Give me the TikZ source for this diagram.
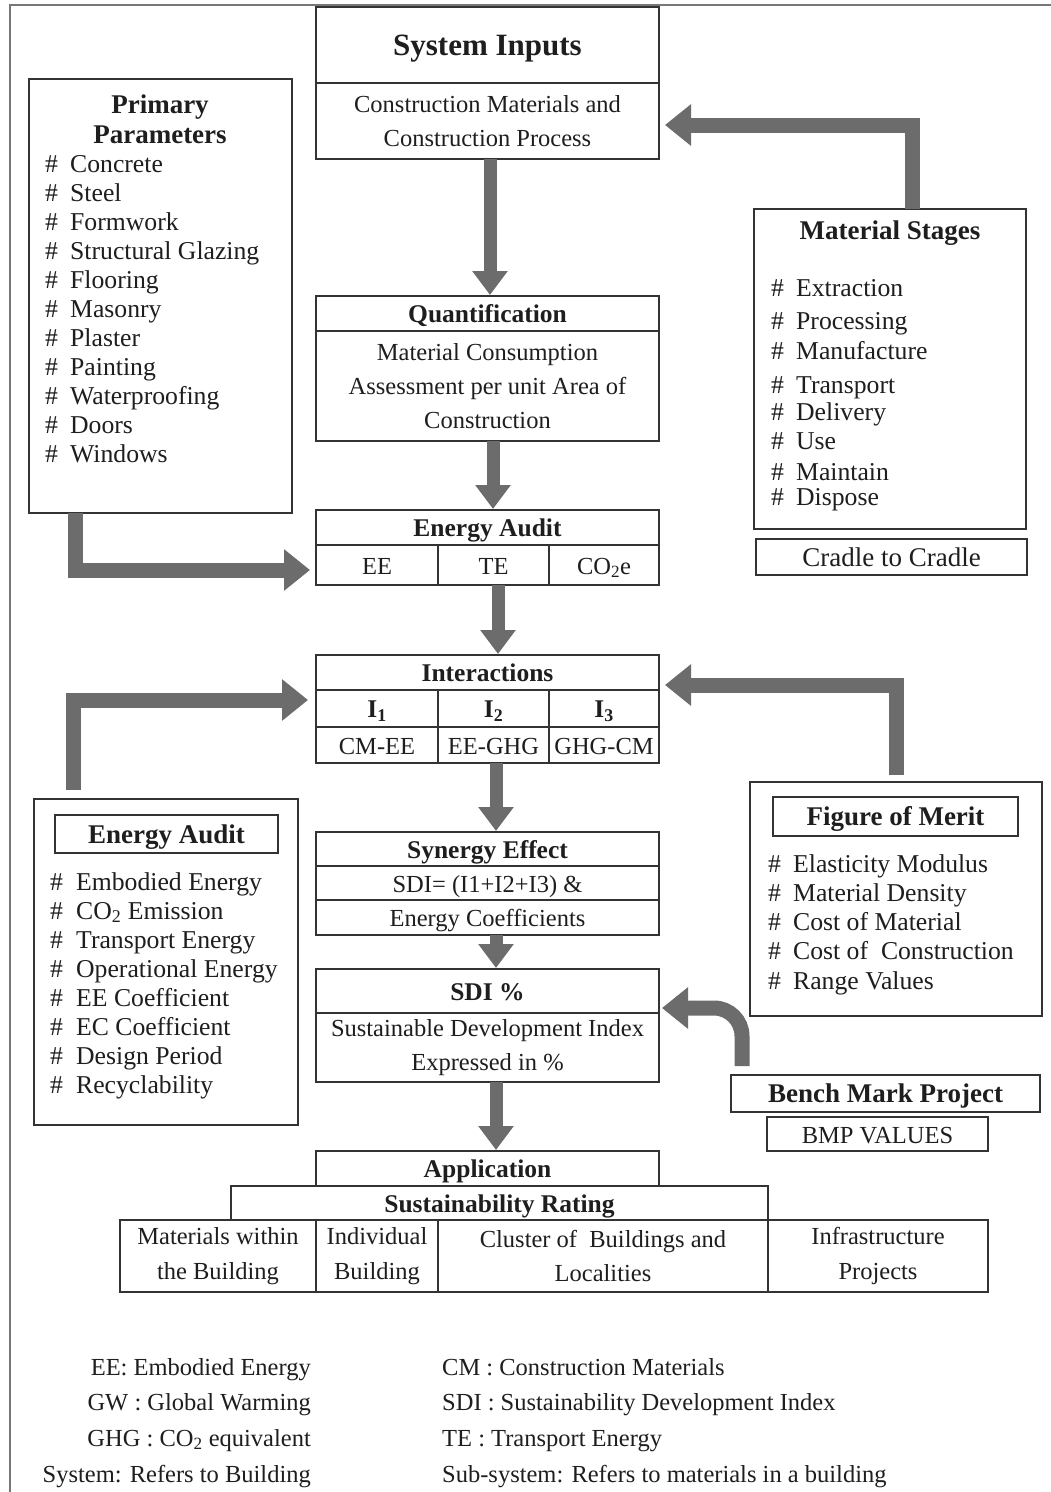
\documentclass[tikz,border=0pt]{standalone}
\usepackage{fontspec}
\setmainfont{Liberation Serif}
\usetikzlibrary{arrows.meta}
\definecolor{ink}{HTML}{1E1E1E}
\definecolor{boxline}{HTML}{333333}
\definecolor{arr}{HTML}{6C6C6C}
\definecolor{frame}{HTML}{777777}
\newcommand\ftitle{\fontsize{31}{36}\selectfont\bfseries}
\newcommand\fhead{\fontsize{25.5}{30}\selectfont\bfseries}
\newcommand\fside{\fontsize{27}{30}\selectfont\bfseries}
\newcommand\fbody{\fontsize{24.5}{34.5}\selectfont}
\newcommand\flist{\fontsize{25.7}{29}\selectfont}
\newcommand\flegend{\fontsize{24.5}{30}\selectfont}
\newcommand\cellbox[7][]{\node[box,#1,minimum width={#5-#3},minimum height={#6-#4}] (#2) at ({(#3+#5)/2},{(#4+#6)/2}) {#7};}
\begin{document}
\begin{tikzpicture}[x=1pt,y=-1pt,
  box/.style={draw=boxline, line width=1.6pt, inner sep=0pt, outer sep=0pt, text=ink, align=center, font=\fbody},
  one/.style={text height=23pt, text depth=5pt},
  onebig/.style={text height=27pt, text depth=6pt},
  item/.style={anchor=west, inner sep=0pt, text=ink, font=\flist, text height=23.5pt, text depth=5pt},
  leg/.style={inner sep=0pt, text=ink, font=\flegend, text height=21pt, text depth=5pt},
  bigarrow/.style={draw=arr, line width=13pt, line join=miter, line cap=butt, -{Triangle[length=24pt,width=34pt]}},
  sidearrow/.style={bigarrow, line width=15pt, -{Triangle[length=26pt,width=40pt]}}
]
\fill[white] (0,0) rectangle (1051,1492);
\useasboundingbox (0,0) rectangle (1051,1492);
\draw[frame, line width=2pt] (10,1492) -- (10,5) -- (1051,5);

% central column
\cellbox[onebig,font=\ftitle]{si_t}{316}{7}{659}{83}{System Inputs}
\cellbox{si_b}{316}{83}{659}{159}{Construction Materials and\\Construction Process}
\cellbox[one,font=\fhead]{q_t}{316}{296}{659}{331}{Quantification}
\cellbox[font=\fontsize{24.5}{34}\selectfont]{q_b}{316}{331}{659}{441}{Material Consumption\\Assessment per unit Area of\\Construction}
\cellbox[one,font=\fhead]{ea_t}{316}{510}{659}{545}{Energy Audit}
\cellbox[one]{ea_1}{316}{545}{438}{585}{EE}
\cellbox[one]{ea_2}{438}{545}{549}{585}{TE}
\cellbox[one]{ea_3}{549}{545}{659}{585}{CO\textsubscript{2}e}
\cellbox[one,font=\fhead]{in_t}{316}{655}{659}{690}{Interactions}
\cellbox[one,font=\fhead]{in_1a}{316}{690}{438}{727}{I\textsubscript{1}}
\cellbox[one,font=\fhead]{in_2a}{438}{690}{549}{727}{I\textsubscript{2}}
\cellbox[one,font=\fhead]{in_3a}{549}{690}{659}{727}{I\textsubscript{3}}
\cellbox[one]{in_1b}{316}{727}{438}{763}{CM-EE}
\cellbox[one]{in_2b}{438}{727}{549}{763}{EE-GHG}
\cellbox[one]{in_3b}{549}{727}{659}{763}{GHG-CM}
\cellbox[one,font=\fhead]{sy_t}{316}{832}{659}{866}{Synergy Effect}
\cellbox[one]{sy_m}{316}{866}{659}{900}{SDI= (I1+I2+I3) \&}
\cellbox[one]{sy_b}{316}{900}{659}{935}{Energy Coefficients}
\cellbox[one,font=\fhead]{sd_t}{316}{969}{659}{1013}{SDI \%}
\cellbox{sd_b}{316}{1013}{659}{1082}{Sustainable Development Index\\Expressed in \%}
\cellbox[one,font=\fhead]{ap}{316}{1151}{659}{1186}{Application}
\cellbox[one,font=\fhead]{sr}{231}{1186}{768}{1220}{Sustainability Rating}
\cellbox{r1}{120}{1220}{316}{1292}{Materials within\\the Building}
\cellbox{r2}{316}{1220}{438}{1292}{Individual\\Building}
\cellbox{r3}{438}{1220}{768}{1292}{Cluster of\ \ Buildings and\\Localities}
\cellbox{r4}{768}{1220}{988}{1292}{Infrastructure\\Projects}

% Primary parameters
\cellbox{pp}{29}{79}{292}{513}{}
\node[inner sep=0pt, text=ink, align=center, font=\fontsize{27}{30}\selectfont\bfseries] (pp_t) at (160,119) {Primary\\Parameters};
\foreach \t [count=\i from 0] in {Concrete,Steel,Formwork,Structural Glazing,Flooring,Masonry,Plaster,Painting,Waterproofing,Doors,Windows}
  \node[item] (pp\i) at (45,{163+29*\i}) {\makebox[25pt][l]{\#}\t};

% Material stages
\cellbox{ms}{754}{209}{1026}{529}{}
\node[inner sep=0pt, text=ink, font=\fside, text height=24pt, text depth=5pt] (ms_t) at (890,230) {Material Stages};
\foreach \y/\t [count=\i] in {287/Extraction,320/Processing,350/Manufacture,384/Transport,411/Delivery,440/Use,471/Maintain,496/Dispose}
  \node[item] (ms\i) at (771,\y) {\makebox[25pt][l]{\#}\t};
\cellbox[one,font=\fontsize{27}{30}\selectfont]{cc}{756}{539}{1027}{575}{Cradle to Cradle}

% Energy audit (left)
\cellbox{eal}{34}{799}{298}{1125}{}
\cellbox[one,font=\fside]{eal_t}{55}{815}{278}{853}{Energy Audit}
\foreach \t [count=\i from 0] in {Embodied Energy,CO\textsubscript{2} Emission,Transport Energy,Operational Energy,EE Coefficient,EC Coefficient,Design Period,Recyclability}
  \node[item] (eal\i) at (50,{881+29*\i}) {\makebox[26pt][l]{\#}\t};

% Figure of merit
\cellbox{fm}{750}{782}{1042}{1016}{}
\cellbox[one,font=\fside]{fm_t}{773}{797}{1018}{836}{Figure of Merit}
\foreach \t [count=\i from 0] in {Elasticity Modulus,Material Density,Cost of Material,Cost of\ \ Construction,Range Values}
  \node[item] (fm\i) at (768,{863+29.2*\i}) {\makebox[25pt][l]{\#}\t};

% Bench mark
\cellbox[one,font=\fside]{bmp}{731}{1075}{1040}{1112}{Bench Mark Project}
\cellbox[one,font=\fontsize{24.5}{30}\selectfont]{bv}{767}{1117}{988}{1151}{BMP VALUES}

% arrows
\draw[bigarrow, shorten >=1pt] ([xshift=2.5pt]si_b.south) -- ([xshift=2.5pt]q_t.north);
\draw[bigarrow, shorten >=1pt] ([xshift=5.5pt]q_b.south) -- ([xshift=5.5pt]ea_t.north);
\draw[bigarrow, shorten >=1pt] ([xshift=4.5pt]ea_2.south) -- ([xshift=10.5pt]in_t.north);
\draw[bigarrow, shorten >=1pt] ([xshift=2.5pt]in_2b.south) -- ([xshift=8.5pt]sy_t.north);
\draw[bigarrow, shorten >=1pt] ([xshift=8.5pt]sy_b.south) -- ([xshift=8.5pt]sd_t.north);
\draw[bigarrow, shorten >=1pt] ([xshift=8.5pt]sd_b.south) -- ([xshift=8.5pt]ap.north);

\draw[sidearrow, shorten >=6pt] ([xshift=46pt]pp.south west) |- ([yshift=-5pt]ea_1.west);
\draw[sidearrow, shorten <=9pt, shorten >=8pt] ([xshift=39pt]eal.north west) |- ([yshift=-10pt]in_t.south west);
\draw[sidearrow, shorten <=7pt, shorten >=6pt] (fm.north) |- ([yshift=5pt]in_3a.north east);
\draw[sidearrow, shorten >=6pt] ([xshift=22pt]ms.north) |- ([yshift=-4pt]si_b.east);
\draw[sidearrow, rounded corners=28pt, shorten <=9pt, shorten >=3pt] ([xshift=11pt]bmp.north west) |- ([yshift=5pt]sd_b.north east);

% legend
\node[leg, anchor=east] (lg1) at (311,1367) {EE: Embodied Energy};
\node[leg, anchor=east] (lg2) at (311,1402) {GW : Global Warming};
\node[leg, anchor=east] (lg3) at (311,1438) {GHG : CO\textsubscript{2} equivalent};
\node[leg, anchor=east] (lg4) at (311,1474) {System: Refers to Building};
\node[leg, anchor=west] (lg5) at (442,1367) {CM : Construction Materials};
\node[leg, anchor=west] (lg6) at (442,1402) {SDI : Sustainability Development Index};
\node[leg, anchor=west] (lg7) at (442,1438) {TE : Transport Energy};
\node[leg, anchor=west] (lg8) at (442,1474) {Sub-system: Refers to materials in a building};
\end{tikzpicture}
\end{document}
